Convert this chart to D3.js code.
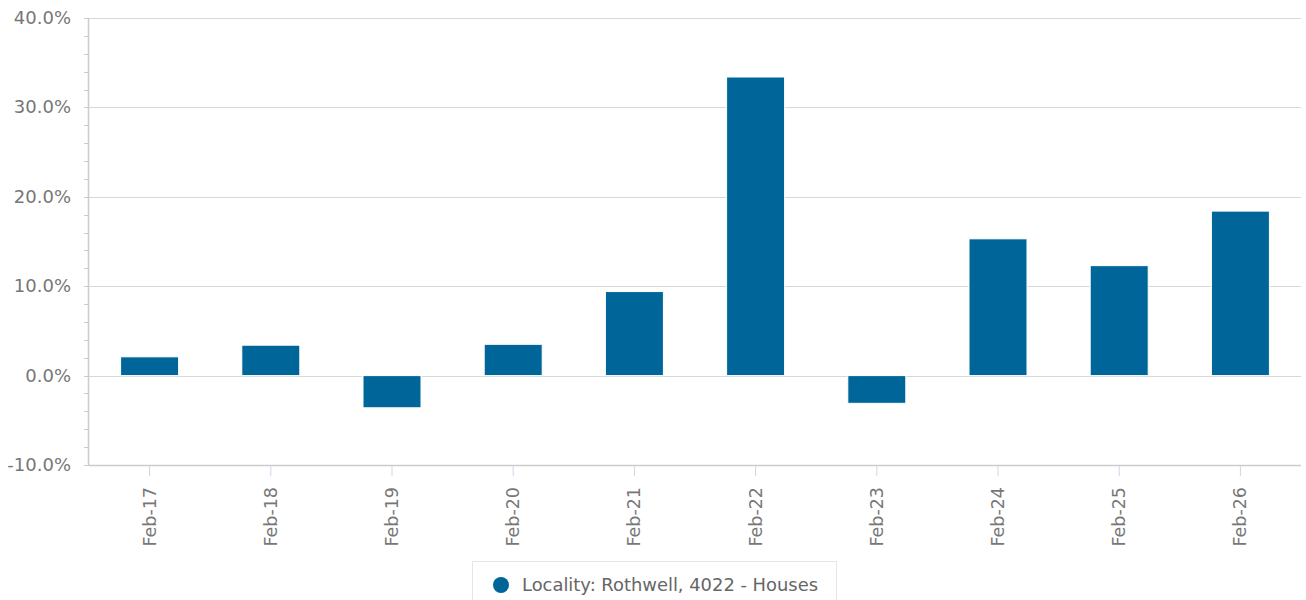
<!DOCTYPE html>
<html>
<head>
<meta charset="utf-8">
<script src="https://cdn.jsdelivr.net/npm/d3@7"></script>
<style>
  body { margin: 0; background: #fff; }
  text { font-family: "DejaVu Sans", sans-serif; }
</style>
</head>
<body>
<div id="chart"></div>
<script>
// data
const categories = ["Feb-17","Feb-18","Feb-19","Feb-20","Feb-21","Feb-22","Feb-23","Feb-24","Feb-25","Feb-26"];
const values = [2.1, 3.4, -3.6, 3.5, 9.4, 33.4, -3.1, 15.3, 12.3, 18.4];
const yTicks = [-10, 0, 10, 20, 30, 40];
const seriesName = "Locality: Rothwell, 4022 - Houses";

const W = 1306, H = 600;
const margin = {top: 18, right: 5, bottom: 135, left: 89};
const width = W - margin.left - margin.right,
      height = H - margin.top - margin.bottom;

const svg = d3.select("#chart").append("svg")
  .attr("width", W).attr("height", H);
const g = svg.append("g")
  .attr("transform", `translate(${margin.left}, ${margin.top})`);

const x = d3.scaleBand().domain(categories).range([0, width]);
const y = d3.scaleLinear().domain([-10, 40]).range([height, 0]);

// grid lines
g.append("g").selectAll("line")
  .data(yTicks.filter(d => d !== -10))
  .join("line")
  .attr("x1", 0).attr("x2", width)
  .attr("y1", d => Math.round(y(d)) + 0.5).attr("y2", d => Math.round(y(d)) + 0.5)
  .attr("stroke", "#d8d8d8").attr("stroke-width", 1);

// minor ticks on y axis
const minor = d3.range(-10, 40.001, 2);
g.append("g").selectAll("line")
  .data(minor)
  .join("line")
  .attr("x1", -5).attr("x2", 0)
  .attr("y1", d => Math.round(y(d)) + 0.5).attr("y2", d => Math.round(y(d)) + 0.5)
  .attr("stroke", "#cccccc");

// y axis line
g.append("line")
  .attr("x1", -0.5).attr("x2", -0.5).attr("y1", 0).attr("y2", height)
  .attr("stroke", "#cccccc").attr("stroke-width", 1.5);

// y labels (plain hyphen for negatives, like the original)
g.append("g").selectAll("text")
  .data(yTicks)
  .join("text")
  .attr("x", -18).attr("y", d => y(d) + 6)
  .attr("text-anchor", "end")
  .attr("font-size", "18px").attr("fill", "#777")
  .text(d => d3.format(".1f")(d).replace("\u2212", "-") + "%");

// bars
g.append("g").selectAll("rect")
  .data(values)
  .join("rect")
  .attr("x", (d, i) => x(categories[i]) + x.bandwidth() / 2 - 29)
  .attr("width", 58)
  .attr("y", d => y(Math.max(0, d)))
  .attr("height", d => Math.abs(y(d) - y(0)))
  .attr("fill", "#006699")
  .attr("stroke", "#ffffff").attr("stroke-width", 1);

// x axis line
g.append("line")
  .attr("x1", 0).attr("x2", width).attr("y1", height + 0.5).attr("y2", height + 0.5)
  .attr("stroke", "#cccccc").attr("stroke-width", 1.5);

// x ticks
g.append("g").selectAll("line")
  .data(categories)
  .join("line")
  .attr("x1", d => x(d) + x.bandwidth() / 2).attr("x2", d => x(d) + x.bandwidth() / 2)
  .attr("y1", height + 1).attr("y2", height + 11)
  .attr("stroke", "#ccd6eb");

// x labels
g.append("g").selectAll("text")
  .data(categories)
  .join("text")
  .attr("transform", d => `translate(${x(d) + x.bandwidth() / 2 + 6}, ${height + 22}) rotate(-90)`)
  .attr("text-anchor", "end")
  .attr("font-size", "17.5px").attr("fill", "#777")
  .text(d => d);

// legend
const legend = svg.append("g").attr("transform", "translate(472, 561)");
legend.append("rect")
  .attr("x", 0.5).attr("y", 0.5).attr("width", 364).attr("height", 50)
  .attr("fill", "#fff").attr("stroke", "#e6e6e6");
legend.append("circle")
  .attr("cx", 29).attr("cy", 24).attr("r", 8).attr("fill", "#006699");
legend.append("text")
  .attr("x", 50).attr("y", 30)
  .attr("font-size", "17.9px").attr("fill", "#666")
  .text(seriesName);
</script>
</body>
</html>
